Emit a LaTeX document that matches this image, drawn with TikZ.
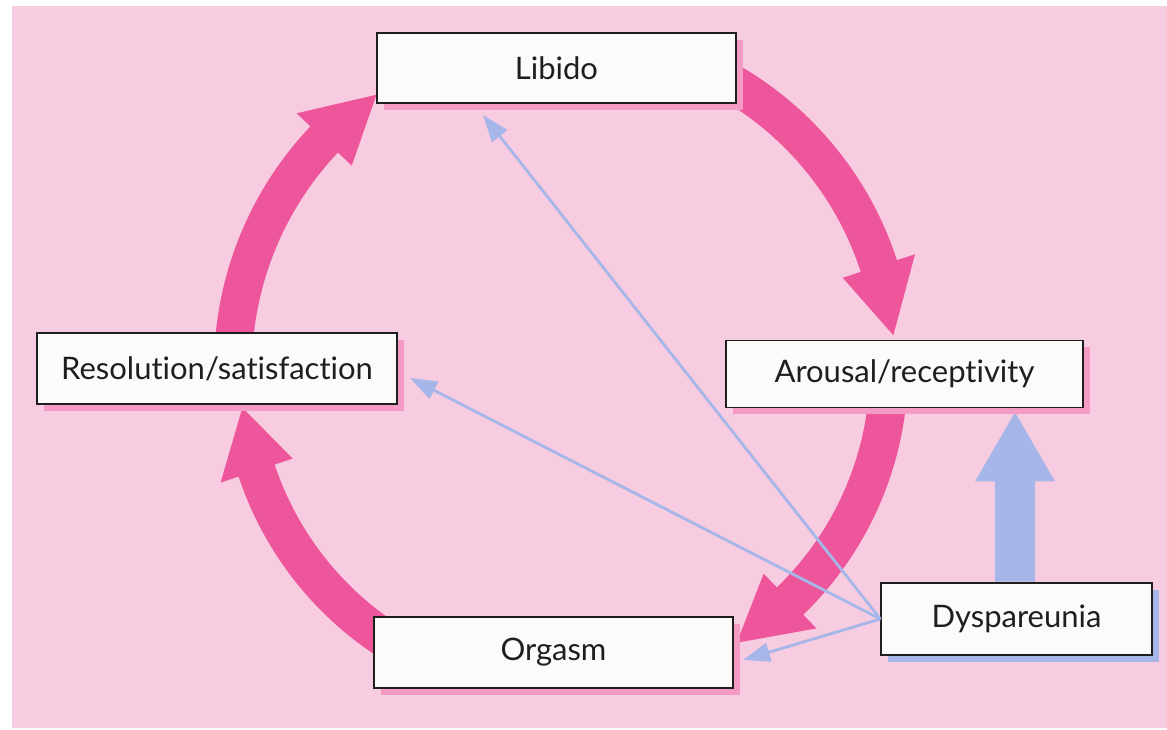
\documentclass[tikz,border=0pt]{standalone}
\usepackage{fontspec}
\setmainfont{Lato}[Ligatures={NoCommon,NoDiscretionary}]
\usetikzlibrary{calc,arrows.meta,shadows}
\definecolor{bgpink}{RGB}{248,204,224}
\definecolor{arrowpink}{RGB}{238,86,156}
\definecolor{shadowpink}{RGB}{243,155,197}
\definecolor{lblue}{RGB}{166,182,232}
\definecolor{boxfill}{RGB}{253,251,250}
\definecolor{ink}{RGB}{30,30,30}
\tikzset{
  stage/.style={draw=ink, line width=1.3pt, fill=boxfill, inner sep=0pt,
    font=\fontsize{31}{32}\selectfont, text=ink,
    general shadow={fill=shadowpink, shadow xshift=7pt, shadow yshift=-7pt}},
  causebox/.style={draw=ink, line width=1.3pt, fill=boxfill, inner sep=0pt,
    font=\fontsize{31}{32}\selectfont, text=ink,
    general shadow={fill=lblue, shadow xshift=7pt, shadow yshift=-7pt}},
  thinarrow/.style={draw=lblue, line width=2.8pt, -{Triangle[length=27pt,width=19pt]}},
  bigblue/.style={fill=lblue},
  cyclearrow/.style={fill=arrowpink}
}
\newcommand\cyc[4]{% radius, start angle, head base angle, tip angle
  \fill[cyclearrow] ($(C)+(#2:{#1-19})$) arc[start angle=#2, end angle=#3, radius=#1-19]
    -- ($(C)+(#3:{#1-38})$) -- ($(C)+(#4:#1)$) -- ($(C)+(#3:{#1+38})$)
    -- ($(C)+(#3:{#1+19})$) arc[start angle=#3, end angle=#2, radius=#1+19] -- cycle;}
\begin{document}
\begin{tikzpicture}[x=1pt,y=1pt]
\useasboundingbox (0,0) rectangle (1167,730);
\fill[white] (0,0) rectangle (1167,730);
\fill[bgpink] (12,2) rectangle (1167,724);
\coordinate (C) at (565,362);
% cycle arrows
\cyc{330}{62}{18}{5.7}
\cyc{324}{-5}{-46}{-58}
\cyc{325}{238}{198.4}{187}
\cyc{332}{175}{136.5}{124.6}
\coordinate (tipL) at (483,615);
\coordinate (tipR) at (410,352);
\coordinate (tipO) at (743,70);
\node[causebox, minimum width=271pt, minimum height=72pt] (dys) at (1016.5,111) {Dyspareunia};
% big blue arrow
\fill[bigblue] ($(dys.north)+(-21.5,0.7)$) -- ($(dys.north)+(-21.5,101)$) -- ($(dys.north)+(-41.5,101)$)
  -- ($(dys.north)+(-1.5,170)$) -- ($(dys.north)+(38.5,101)$) -- ($(dys.north)+(18.5,101)$)
  -- ($(dys.north)+(18.5,0.7)$) -- cycle;
% thin arrows
\draw[thinarrow] (dys.west) -- (tipL);
\draw[thinarrow] (dys.west) -- (tipR);
\draw[thinarrow] (dys.west) -- (tipO);
% stage boxes
\node[stage, minimum width=359pt, minimum height=70pt] (lib) at (556.5,662) {Libido};
\node[stage, minimum width=357pt, minimum height=67pt] (aro) at (904.5,356) {Arousal/receptivity};
\node[stage, minimum width=360pt, minimum height=71pt] (res) at (217,361.5) {Resolution/satisfaction};
\node[stage, minimum width=359pt, minimum height=71pt] (org) at (553.5,77.5) {Orgasm};
\end{tikzpicture}
\end{document}
